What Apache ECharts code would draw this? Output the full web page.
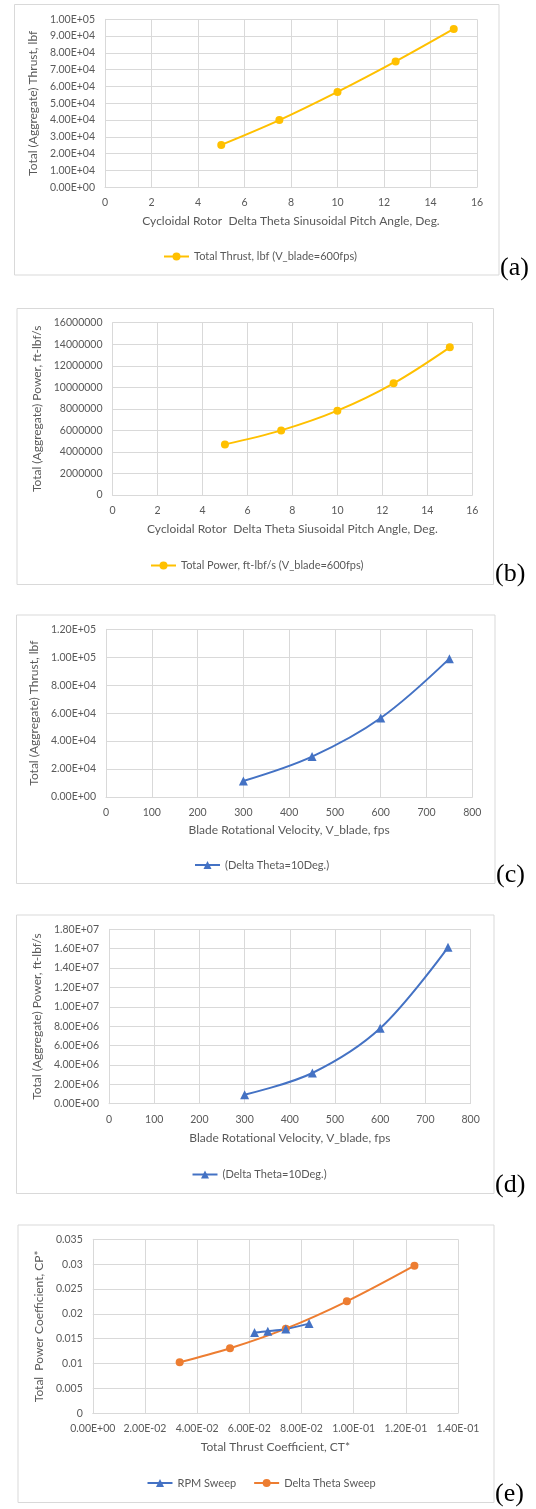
<!DOCTYPE html>
<html>
<head>
<meta charset="utf-8">
<script src="https://cdn.jsdelivr.net/npm/echarts@6/dist/echarts.min.js"></script>
<style>
  html, body { margin: 0; padding: 0; background: #ffffff; }
  #chart { width: 536px; height: 1509px; }
</style>
</head>
<body>
<div id="chart"></div>
<script>
// Pitch-angle sweep at V_blade = 600 fps
const pitchAngle = [5, 7.5, 10, 12.5, 15];
const thrustVsAngle = [25250, 40000, 56800, 74950, 94300];
const powerVsAngle = [4700000, 6000000, 7830000, 10370000, 13710000];

// Blade-speed sweep at Delta Theta = 10 deg
const bladeVelocity = [300, 450, 600, 750];
const thrustVsVelocity = [11450, 28900, 56500, 99000];
const powerVsVelocity = [930000, 3170000, 7780000, 16140000];

// Coefficient comparison of both sweeps
const rpmSweepCT = [0.0620, 0.0671, 0.0740, 0.0829];
const rpmSweepCP = [0.01623, 0.01649, 0.01696, 0.01804];
const deltaSweepCT = [0.0333, 0.0526, 0.0740, 0.0974, 0.1233];
const deltaSweepCP = [0.01026, 0.01307, 0.01703, 0.02253, 0.0297];

// Axis ranges [min, max, interval]
const angleAxis = [0, 16, 2];
const velocityAxis = [0, 800, 100];
const ctAxis = [0, 0.14, 0.02];
const thrustAxisA = [0, 100000, 10000];
const powerAxisB = [0, 16000000, 2000000];
const thrustAxisC = [0, 120000, 20000];
const powerAxisD = [0, 18000000, 2000000];
const cpAxis = [0, 0.035, 0.005];

const panelTags = ['(a)', '(b)', '(c)', '(d)', '(e)'];

const YELLOW = '#FFC000', BLUE = '#4472C4', ORANGE = '#ED7D31';
const GRID_C = '#D9D9D9', TEXT_C = '#595959';
const FONT = 'Lato, "Open Sans", sans-serif';

// Excel-style scientific notation: 1.00E+05
function sci(v) {
  const s = Number(v).toExponential(2);
  const parts = s.split('e');
  const sign = parts[1][0] === '-' ? '-' : '+';
  let d = parts[1].replace(/[+-]/, '');
  if (d.length < 2) d = '0' + d;
  return parts[0] + 'E' + sign + d;
}
const plain = v => String(Math.round(v));
const trim = v => String(+v.toFixed(4));

function pairs(xs, ys) { return xs.map((x, i) => [x, ys[i]]); }

// Panel layout: frame box, plot grid, axis name gaps, legend position, tag position
const panels = [
  { frame: [14.5, 4.5, 484.5, 270.5], grid: [105, 19.3, 372, 168], xGap: 28, yGap: 59,
    xr: angleAxis, yr: thrustAxisA, yFmt: sci, xFmt: plain,
    xName: 'Cycloidal Rotor  Delta Theta Sinusoidal Pitch Angle, Deg.',
    yName: 'Total (Aggregate) Thrust, lbf', legend: [163, 256], tag: [500, 270] },
  { frame: [17, 308.5, 476.5, 276], grid: [112.5, 322.7, 359.8, 172.3], xGap: 28, yGap: 67,
    xr: angleAxis, yr: powerAxisB, yFmt: plain, xFmt: plain,
    xName: 'Cycloidal Rotor  Delta Theta Siusoidal Pitch Angle, Deg.',
    yName: 'Total (Aggregate) Power, ft-lbf/s', legend: [150, 565], tag: [495, 576] },
  { frame: [16.5, 615, 478.5, 268.5], grid: [106, 629.3, 366.3, 167.7], xGap: 27, yGap: 65,
    xr: velocityAxis, yr: thrustAxisC, yFmt: sci, xFmt: plain,
    xName: 'Blade Rotational Velocity, V_blade, fps',
    yName: 'Total (Aggregate) Thrust, lbf', legend: [194, 864.5], tag: [496, 877] },
  { frame: [16.5, 915, 477.5, 278.5], grid: [109, 929.3, 361.6, 174.4], xGap: 28.5, yGap: 64,
    xr: velocityAxis, yr: powerAxisD, yFmt: sci, xFmt: plain,
    xName: 'Blade Rotational Velocity, V_blade, fps',
    yName: 'Total (Aggregate) Power, ft-lbf/s', legend: [191.5, 1174], tag: [495, 1187] },
  { frame: [18, 1225, 476, 277.5], grid: [92.8, 1239.3, 365.2, 174], xGap: 28, yGap: 47,
    xr: ctAxis, yr: cpAxis, yFmt: trim, xFmt: sci,
    xName: 'Total Thrust Coefficient, CT*',
    yName: 'Total  Power Coefficient, CP*', legend: [146.5, 1482.5], tag: [495, 1496] }
];

const grids = [], xAxes = [], yAxes = [], legends = [], graphics = [];

panels.forEach((p, i) => {
  graphics.push({
    type: 'rect', z: -10, silent: true,
    shape: { x: p.frame[0], y: p.frame[1], width: p.frame[2], height: p.frame[3] },
    style: { fill: '#ffffff', stroke: GRID_C, lineWidth: 1 }
  });
  graphics.push({
    type: 'text', left: p.tag[0], top: p.tag[1] - 15, silent: true,
    style: { text: panelTags[i], font: '26px "Liberation Serif", "DejaVu Serif", serif', fill: '#000000' }
  });
  grids.push({ left: p.grid[0], top: p.grid[1], width: p.grid[2], height: p.grid[3], containLabel: false });
  const axisCommon = {
    gridIndex: i, type: 'value',
    axisLine: { show: true, lineStyle: { color: GRID_C, width: 1 } },
    axisTick: { show: false },
    splitLine: { show: true, lineStyle: { color: GRID_C, width: 1 } },
    nameLocation: 'middle',
    nameTextStyle: { color: TEXT_C, fontFamily: FONT, fontSize: 12 }
  };
  xAxes.push(Object.assign({}, axisCommon, {
    min: p.xr[0], max: p.xr[1], interval: p.xr[2],
    name: p.xName, nameGap: p.xGap,
    axisLabel: { color: TEXT_C, fontFamily: FONT, fontSize: 10.5, margin: 10, formatter: p.xFmt, showMaxLabel: true, showMinLabel: true }
  }));
  yAxes.push(Object.assign({}, axisCommon, {
    min: p.yr[0], max: p.yr[1], interval: p.yr[2],
    name: p.yName, nameGap: p.yGap,
    axisLabel: { color: TEXT_C, fontFamily: FONT, fontSize: 10.5, margin: 10, formatter: p.yFmt, showMaxLabel: true, showMinLabel: true }
  }));
});

const legendText = { color: TEXT_C, fontFamily: FONT, fontSize: 11 };
function legendAt(idx, names, gap) {
  const p = panels[idx];
  return {
    data: names, left: p.legend[0], top: p.legend[1] - 5, itemWidth: 25, itemHeight: 10,
    itemGap: gap || 10, textStyle: legendText, padding: 0, selectedMode: false
  };
}
legends.push(legendAt(0, ['Total Thrust, lbf (V_blade=600fps)']));
legends.push(legendAt(1, ['Total Power, ft-lbf/s (V_blade=600fps)']));
legends.push(legendAt(2, ['(Delta Theta=10Deg.)']));
legends.push(legendAt(3, ['(Delta Theta=10Deg.) ']));
legends.push(legendAt(4, ['RPM Sweep', 'Delta Theta Sweep'], 17));

function lineSeries(name, idx, xs, ys, color, symbol, size) {
  return {
    name: name, type: 'line', xAxisIndex: idx, yAxisIndex: idx,
    data: pairs(xs, ys), smooth: 0.35, symbol: symbol, symbolSize: size,
    showAllSymbol: true,
    lineStyle: { color: color, width: 2 },
    itemStyle: { color: color, borderWidth: 0 },
    emphasis: { disabled: true }
  };
}

const series = [
  lineSeries('Total Thrust, lbf (V_blade=600fps)', 0, pitchAngle, thrustVsAngle, YELLOW, 'circle', 8),
  lineSeries('Total Power, ft-lbf/s (V_blade=600fps)', 1, pitchAngle, powerVsAngle, YELLOW, 'circle', 8),
  lineSeries('(Delta Theta=10Deg.)', 2, bladeVelocity, thrustVsVelocity, BLUE, 'triangle', 9),
  lineSeries('(Delta Theta=10Deg.) ', 3, bladeVelocity, powerVsVelocity, BLUE, 'triangle', 9),
  lineSeries('Delta Theta Sweep', 4, deltaSweepCT, deltaSweepCP, ORANGE, 'circle', 8),
  lineSeries('RPM Sweep', 4, rpmSweepCT, rpmSweepCP, BLUE, 'triangle', 9)
];

const chart = echarts.init(document.getElementById('chart'), null, { renderer: 'canvas' });
chart.setOption({
  animation: false,
  backgroundColor: '#ffffff',
  graphic: graphics,
  grid: grids,
  xAxis: xAxes,
  yAxis: yAxes,
  legend: legends,
  series: series
});
</script>
</body>
</html>
